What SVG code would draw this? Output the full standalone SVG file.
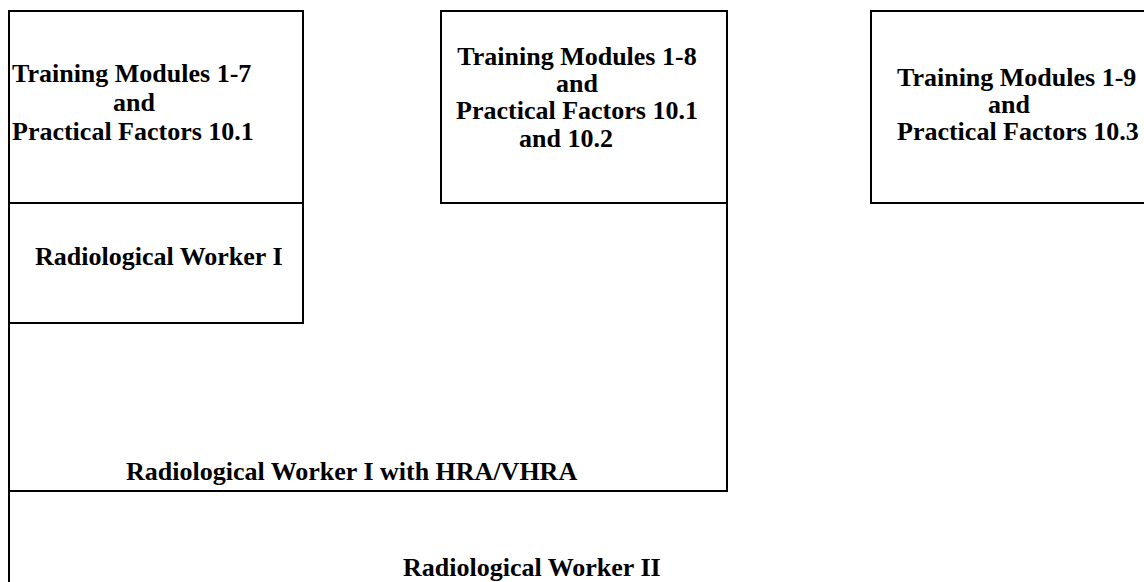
<svg xmlns="http://www.w3.org/2000/svg" width="1144" height="582" viewBox="0 0 1144 582">
<style>
.box{fill:none;stroke:#000;stroke-width:2}
.t{font-family:"Liberation Serif","Times New Roman",serif;font-weight:bold;font-size:26px;fill:#000}
.m{text-anchor:middle}
</style>
<rect width="1144" height="582" fill="#fff"/>
<g id="rw2">
<path class="box" d="M9,491 V590"/>
<text class="t" x="403" y="576">Radiological Worker II</text>
</g>
<g id="rw1hra">
<path class="box" d="M9,203 V491 H727 V203"/>
<text class="t" x="126" y="480">Radiological Worker I with HRA/VHRA</text>
</g>
<g id="tm17">
<rect class="box" x="9" y="11" width="294" height="192"/>
<text class="t"><tspan x="12" y="82">Training Modules 1-7</tspan><tspan class="m" x="134" y="111">and</tspan><tspan x="12" y="140">Practical Factors 10.1</tspan></text>
</g>
<g id="rw1">
<rect class="box" x="9" y="203" width="294" height="120"/>
<text class="t" x="35" y="265">Radiological Worker I</text>
</g>
<g id="tm18">
<rect class="box" x="441" y="11" width="286" height="192"/>
<text class="t m"><tspan x="577" y="65">Training Modules 1-8</tspan><tspan x="577" y="92">and</tspan><tspan x="577" y="119">Practical Factors 10.1</tspan><tspan x="566" y="147">and 10.2</tspan></text>
</g>
<g id="tm19">
<rect class="box" x="871" y="11" width="300" height="192"/>
<text class="t"><tspan x="897" y="86">Training Modules 1-9</tspan><tspan class="m" x="1009" y="113">and</tspan><tspan x="897" y="140">Practical Factors 10.3</tspan></text>
</g>
<g id="connectors"/>
</svg>
